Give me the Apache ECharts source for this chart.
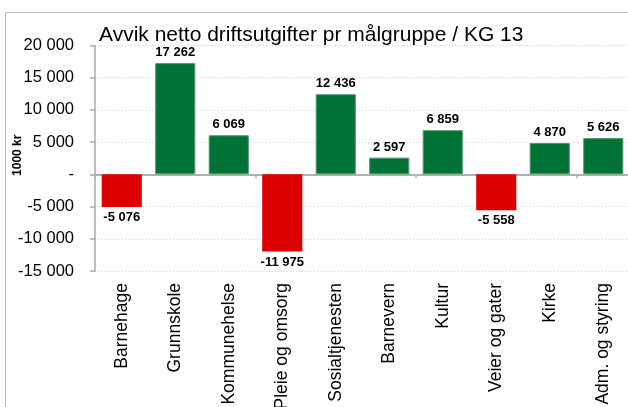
<!DOCTYPE html>
<html>
<head>
<meta charset="utf-8">
<script src="https://cdn.jsdelivr.net/npm/echarts@6/dist/echarts.min.js"></script>
<style>
html,body{margin:0;padding:0;background:#fff;}
#c{width:628px;height:407px;}
</style>
</head>
<body>
<div id="c"></div>
<script>
const titleText = 'Avvik netto driftsutgifter pr målgruppe / KG 13';
const yAxisName = '1000 kr';
const categories = ['Barnehage','Grunnskole','Kommunehelse','Pleie og omsorg','Sosialtjenesten','Barnevern','Kultur','Veier og gater','Kirke','Adm. og styring'];
const values = [-5076, 17262, 6069, -11975, 12436, 2597, 6859, -5558, 4870, 5626];
const yMin = -15000, yMax = 20000, yStep = 5000;

function fmt(v){
  if (v === 0) return '-';
  const s = Math.abs(Math.round(v)).toString().replace(/\B(?=(\d{3})+(?!\d))/g, ' ');
  return (v < 0 ? '-' : '') + s;
}

const FONT = 'Liberation Sans, Arial, sans-serif';
const chart = echarts.init(document.getElementById('c'));
chart.setOption({
  animation: false,
  backgroundColor: '#fff',
  title: {
    text: titleText, left: 94, top: 20,
    textStyle: {fontFamily: FONT, fontSize: 21, fontWeight: 'normal', color: '#000'}
  },
  graphic: [{
    type: 'rect', silent: true,
    shape: {x: 5.5, y: 12.5, width: 700, height: 500},
    style: {fill: 'none', stroke: '#b8b8b8', lineWidth: 1}
  }],
  grid: {left: 95, top: 45.5, width: 535, height: 225.5, containLabel: false, outerBoundsMode: 'none'},
  xAxis: [{
    type: 'category', data: categories, position: 'bottom',
    axisLine: {onZero: true, lineStyle: {color: '#b0b0b0', width: 2}},
    axisTick: {show: true, alignWithLabel: false, length: 4, lineStyle: {color: '#b0b0b0', width: 1.5}},
    axisLabel: {show: false},
    splitLine: {show: false}
  }, {
    type: 'category', data: categories, position: 'bottom',
    axisLine: {show: false, onZero: false},
    axisTick: {show: false},
    axisLabel: {show: true, rotate: 90, margin: 12, fontFamily: FONT, fontSize: 17.5, color: '#000', interval: 0},
    splitLine: {show: false}
  }],
  yAxis: {
    type: 'value', min: yMin, max: yMax, interval: yStep,
    name: yAxisName, nameLocation: 'middle', nameGap: 71, nameRotate: 90, nameMoveOverlap: false,
    nameTextStyle: {fontFamily: FONT, fontSize: 12, fontWeight: 'bold', color: '#000', padding: [0, 0, 0, 6]},
    axisLine: {show: true, lineStyle: {color: '#a8a8a8', width: 1.5}},
    axisTick: {show: true, length: 5, lineStyle: {color: '#a8a8a8', width: 1.5}},
    axisLabel: {margin: 21, fontFamily: FONT, fontSize: 16.5, color: '#000', formatter: fmt},
    splitLine: {show: true, lineStyle: {color: '#c5d3ee', type: [1, 2], width: 1}}
  },
  series: [{
    type: 'bar', xAxisIndex: 0,
    barCategoryGap: '25%',
    data: values.map(v => ({
      value: v,
      itemStyle: v < 0 ? {color: '#dd0000', borderColor: '#dd0000', borderWidth: 0}
                       : {color: '#007236', borderColor: '#4c9a69', borderWidth: 1},
      label: {position: v < 0 ? 'bottom' : 'top'}
    })),
    label: {
      show: true, distance: 4,
      fontFamily: FONT, fontSize: 13, fontWeight: 'bold', color: '#000',
      formatter: p => fmt(p.value)
    }
  }]
});
</script>
</body>
</html>
